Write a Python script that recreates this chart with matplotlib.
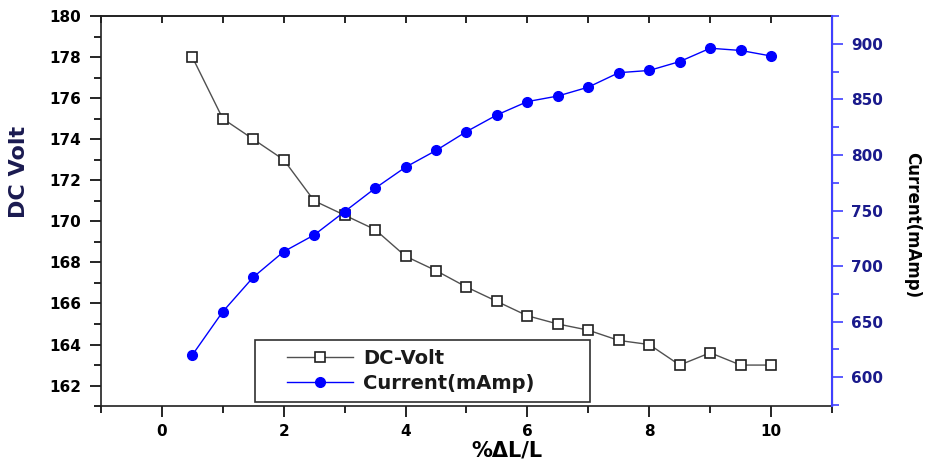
import numpy as np
import matplotlib
matplotlib.use("Agg")
import matplotlib.pyplot as plt
from matplotlib.patches import Rectangle
from matplotlib.ticker import MultipleLocator, NullFormatter

# strain (%dL/L)
strain = [0.5, 1.0, 1.5, 2.0, 2.5, 3.0, 3.5, 4.0, 4.5, 5.0,
          5.5, 6.0, 6.5, 7.0, 7.5, 8.0, 8.5, 9.0, 9.5, 10.0]

dc_volt = [178.0, 175.0, 174.0, 173.0, 171.0, 170.3, 169.6, 168.3, 167.6, 166.8,
           166.1, 165.4, 165.0, 164.7, 164.2, 164.0, 163.0, 163.6, 163.0, 163.0]

current_mamp = [620, 659, 690, 713, 728, 749, 770, 789, 804, 821,
                836, 848, 853, 861, 874, 876, 884, 896, 894, 889]

blue = "#0000ff"
navy = "#1a1a8c"

fig = plt.figure(figsize=(9.26, 4.61), dpi=100)
ax = fig.add_axes([0.109, 0.119, 0.7895, 0.8463])
ax2 = ax.twinx()

l1, = ax.plot(strain, dc_volt, color="#505050", lw=1.0,
              marker="s", ms=7, mfc="white", mec="#202020", mew=1.2,
              label="DC-Volt")
l2, = ax2.plot(strain, current_mamp, color=blue, lw=1.0,
               marker="o", ms=7, mfc=blue, mec=blue,
               label="Current(mAmp)")

ax.set_xlim(-1, 11)
ax.set_ylim(161, 180)
ax2.set_ylim(574, 925)

ax.xaxis.set_major_locator(MultipleLocator(2))
ax.xaxis.set_minor_locator(MultipleLocator(1))
ax.yaxis.set_major_locator(MultipleLocator(2))
ax.yaxis.set_minor_locator(MultipleLocator(1))
ax2.yaxis.set_major_locator(MultipleLocator(50))
ax2.yaxis.set_minor_locator(MultipleLocator(25))

ax.tick_params(axis="x", which="both", direction="out", top=False,
               labelsize=11, width=1.2, pad=5)
ax.tick_params(axis="x", which="major", length=8)
ax.tick_params(axis="x", which="minor", length=5)
ax.tick_params(axis="y", which="major", direction="out", length=8, width=1.2,
               labelsize=11, pad=6)
ax.tick_params(axis="y", which="minor", direction="out", length=5, width=1.2)
ax2.tick_params(axis="y", which="major", direction="out", length=8, width=1.2,
                colors="#4040ff", labelcolor=navy, labelsize=11, pad=6)
ax2.tick_params(axis="y", which="minor", direction="out", length=5, width=1.2,
                colors="#4040ff")

# inward ticks on top edge, no labels
top = ax.secondary_xaxis("top")
top.xaxis.set_major_locator(MultipleLocator(1))
top.xaxis.set_major_formatter(NullFormatter())
top.tick_params(axis="x", direction="in", length=5, width=1.2)
top.spines["top"].set_color("#202020")
top.spines["top"].set_linewidth(1.2)

for lab in ax.get_xticklabels() + ax.get_yticklabels() + ax2.get_yticklabels():
    lab.set_fontweight("bold")

for s in ["left", "bottom", "top"]:
    ax.spines[s].set_color("#202020")
    ax.spines[s].set_linewidth(1.2)
ax2.spines["right"].set_color("#4040ff")
ax2.spines["right"].set_linewidth(1.5)
for s in ["left", "bottom", "top"]:
    ax2.spines[s].set_visible(False)

ax.set_xlabel("%ΔL/L", fontsize=15, fontweight="bold")
ax.xaxis.set_label_coords(0.555, -0.087)
ax.set_ylabel("DC Volt", fontsize=16, fontweight="bold", color="#1a1a50")
ax.yaxis.set_label_coords(-0.098, 0.6)
ax2.set_ylabel("Current(mAmp)", fontsize=12, fontweight="bold", rotation=-90,
               va="center")
ax2.yaxis.set_label_coords(1.109, 0.464)

# legend entries without frame, box drawn separately
leg = ax2.legend(handles=[l1, l2], loc="center left",
                 bbox_to_anchor=(0.2544, 0.0897),
                 prop={"size": 14, "weight": "bold"},
                 frameon=False, handlelength=3.4, borderpad=0,
                 labelspacing=0.3, handletextpad=0.5, borderaxespad=0)
for t in leg.get_texts():
    t.set_color("#1a1a1a")
ax2.add_patch(Rectangle((0.2107, 0.0103), 0.4583, 0.1589,
                        transform=ax2.transAxes, fill=False,
                        edgecolor="#303030", lw=1.2, zorder=5))

fig.savefig("out.png", dpi=100)
